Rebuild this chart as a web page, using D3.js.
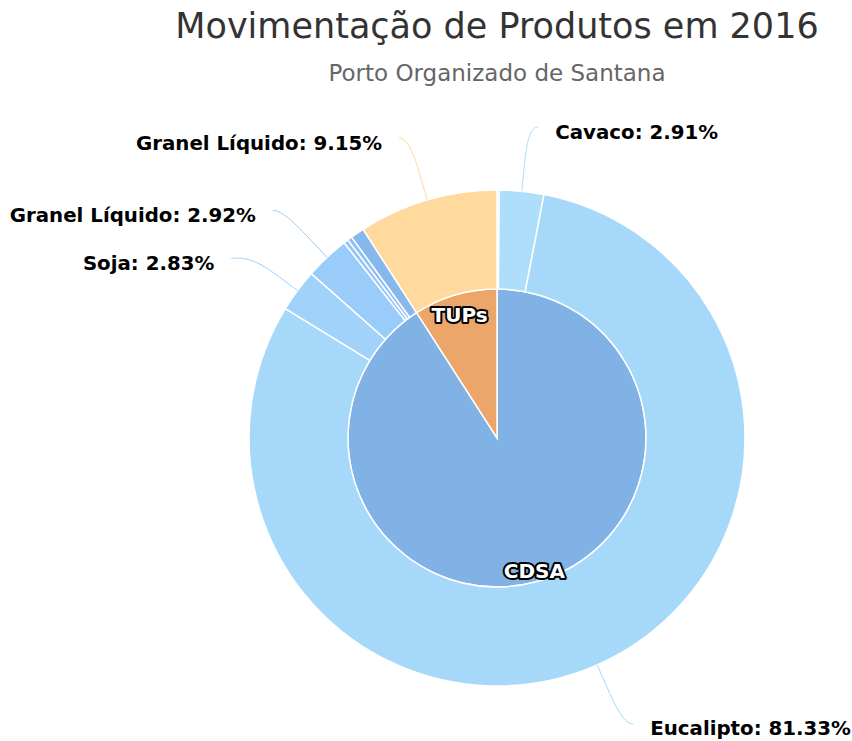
<!DOCTYPE html>
<html>
<head>
<meta charset="utf-8">
<script src="https://cdn.jsdelivr.net/npm/d3@7"></script>
<style>
  body { margin: 0; background: #fff; }
  svg { font-family: "DejaVu Sans", sans-serif; }
</style>
</head>
<body>
<svg id="chart" width="852" height="741"></svg>
<script>
// terminals and products moved in 2016 (values shown as %)
var groups = ["CDSA", "TUPs"];
var productNames = ["Outros", "Cavaco", "Eucalipto", "Soja", "Granel Líquido", "Outros", "Outros", "Outros", "Granel Líquido"];
var productGroup = ["CDSA", "CDSA", "CDSA", "CDSA", "CDSA", "CDSA", "CDSA", "CDSA", "TUPs"];
var productShare = [0.15, 2.91, 81.33, 2.83, 2.92, 0.3, 0.3, 0.9, 9.15];

var titleText = "Movimentação de Produtos em 2016",
    subtitleText = "Porto Organizado de Santana";

var svg = d3.select("#chart"),
    cx = 497, cy = 438,
    rOuter = 248, rInner = 149,
    labelR = 312.5;

var baseColor = { "CDSA": "#80b2e5", "TUPs": "#eca66a" };

// highcharts-like brighten
function brighten(c, a) {
  var rgb = d3.rgb(c), k = 255 * a;
  return d3.rgb(Math.min(255, rgb.r + k), Math.min(255, rgb.g + k), Math.min(250, rgb.b + k)).formatHex();
}

var products = productNames.map(function(n, i) {
  return { name: n, group: productGroup[i], value: productShare[i] };
});

var groupData = groups.map(function(g) {
  return { name: g, value: d3.sum(products.filter(function(p) { return p.group == g; }), function(p) { return p.value; }) };
});

// child colours, darker as we go round
groups.forEach(function(g) {
  var kids = products.filter(function(p) { return p.group == g; });
  kids.forEach(function(p, j) {
    p.color = brighten(baseColor[g], 0.2 - (j / kids.length) / 5);
  });
});

svg.append("text")
   .attr("x", cx).attr("y", 38)
   .attr("text-anchor", "middle")
   .attr("font-size", "35px")
   .attr("fill", "#333333")
   .text(titleText);

svg.append("text")
   .attr("x", cx).attr("y", 81)
   .attr("text-anchor", "middle")
   .attr("font-size", "23px")
   .attr("fill", "#666666")
   .text(subtitleText);

var pie = d3.pie().sort(null).value(function(d) { return d.value; });
var innerArc = d3.arc().innerRadius(0).outerRadius(rInner);
var outerArc = d3.arc().innerRadius(rInner).outerRadius(rOuter);

var g = svg.append("g").attr("transform", "translate(" + cx + "," + cy + ")");

var innerSlices = pie(groupData);
var outerSlices = pie(products);

g.selectAll(".inner")
 .data(innerSlices)
 .enter().append("path")
 .attr("class", "inner")
 .attr("d", innerArc)
 .style("fill", function(d) { return baseColor[d.data.name]; })
 .style("stroke", "#fff")
 .style("stroke-width", 1.5);

g.selectAll(".outer")
 .data(outerSlices)
 .enter().append("path")
 .attr("class", "outer")
 .attr("d", outerArc)
 .style("fill", function(d) { return d.data.color; })
 .style("stroke", "#fff")
 .style("stroke-width", 1.5);

// inner labels
g.selectAll(".innerLabel")
 .data(innerSlices)
 .enter().append("text")
 .attr("class", "innerLabel")
 .attr("x", function(d) { var a = (d.startAngle + d.endAngle) / 2; return 133 * Math.sin(a); })
 .attr("y", function(d) { var a = (d.startAngle + d.endAngle) / 2; return -133 * Math.cos(a) + 5; })
 .attr("text-anchor", "middle")
 .attr("dominant-baseline", "central")
 .attr("font-size", "20px")
 .attr("font-weight", "bold")
 .attr("fill", "#fff")
 .attr("stroke", "#000")
 .attr("stroke-width", 4)
 .attr("stroke-linejoin", "round")
 .attr("paint-order", "stroke")
 .text(function(d) { return d.data.name; });

// outer labels (tiny slices have theirs hidden, like the original)
var labelled = outerSlices.filter(function(d) { return d.data.value >= 1; })
  .map(function(d) {
    var a = (d.startAngle + d.endAngle) / 2;
    return { d: d, a: a, side: Math.sin(a) >= 0 ? 1 : -1, y: -labelR * Math.cos(a) };
  });

// push labels apart vertically on each side
[1, -1].forEach(function(s) {
  var list = labelled.filter(function(l) { return l.side == s; })
                     .sort(function(p, q) { return p.y - q.y; });
  for (var i = 1; i < list.length; i++) {
    if (list[i].y - list[i - 1].y < 48) list[i].y = list[i - 1].y + 48;
  }
});

labelled.forEach(function(l) {
  var d = l.d, a = l.a, side = l.side,
      sin = Math.sin(a), cos = -Math.cos(a);
  var ly = l.y,
      lx = side * (Math.sqrt(Math.max(0, labelR * labelR - ly * ly)) + 5);
  var bx = (rOuter + 30) * sin, by = (rOuter + 30) * cos;
  var tx = rOuter * sin, ty = rOuter * cos;

  // soft connector: label -> break point -> slice edge
  g.append("path")
   .attr("d", "M" + (lx + side * 5) + "," + ly +
              "C" + lx + "," + ly + " " +
              (2 * bx - tx) + "," + (2 * by - ty) + " " + bx + "," + by +
              "L" + tx + "," + ty)
   .style("fill", "none")
   .style("stroke", d.data.color)
   .style("stroke-width", 1);

  g.append("text")
   .attr("x", lx + side * 22)
   .attr("y", ly + 5)
   .attr("text-anchor", side > 0 ? "start" : "end")
   .attr("dominant-baseline", "central")
   .attr("font-size", "19.8px")
   .attr("font-weight", "bold")
   .attr("fill", "#000")
   .text(d.data.name + ": " + d.data.value.toFixed(2) + "%");
});
</script>
</body>
</html>
